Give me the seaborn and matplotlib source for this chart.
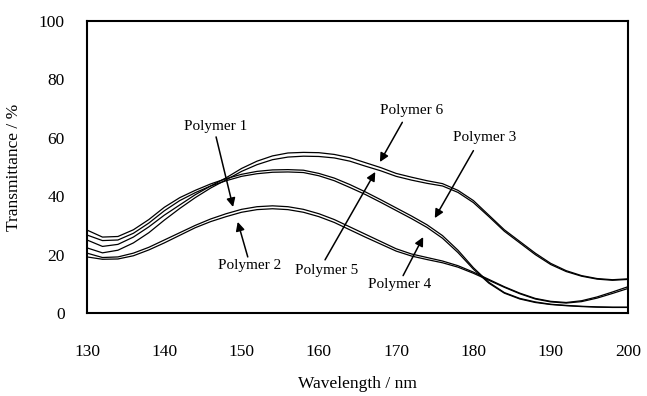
import numpy as np
import pandas as pd
import matplotlib
matplotlib.use("Agg")
import matplotlib.pyplot as plt
import seaborn as sns

wavelength = [130, 132, 134, 136, 138, 140, 142, 144, 146, 148, 150, 152, 154, 156, 158,
              160, 162, 164, 166, 168, 170, 172, 174, 176, 178, 180, 182, 184, 186, 188,
              190, 192, 194, 196, 198, 200]

polymer1 = [20.5, 19.0, 19.2, 20.5, 22.5, 25.0, 27.5, 30.0, 32.2, 34.0, 35.5, 36.4, 36.7, 36.4, 35.5,
            34.0, 32.0, 29.5, 27.0, 24.5, 22.0, 20.2, 19.0, 17.8, 16.2, 14.0, 11.5, 9.0, 6.8, 5.0,
            4.0, 3.6, 4.2, 5.5, 7.2, 9.0]
polymer2 = [19.2, 18.4, 18.5, 19.6, 21.6, 24.0, 26.6, 29.2, 31.3, 33.0, 34.5, 35.4, 35.7, 35.4, 34.5,
            33.0, 31.0, 28.5, 26.0, 23.6, 21.2, 19.5, 18.3, 17.2, 15.7, 13.6, 11.2, 8.8, 6.6, 4.8,
            3.8, 3.4, 3.9, 5.1, 6.7, 8.4]
polymer3 = [28.4, 26.0, 26.2, 28.5, 32.0, 36.2, 39.5, 42.0, 44.2, 46.0, 47.5, 48.5, 49.0, 49.1, 48.9,
            47.8, 46.2, 44.0, 41.5, 38.8, 36.0, 33.2, 30.2, 26.5, 21.5, 15.5, 10.5, 7.0, 5.0, 3.8,
            3.0, 2.6, 2.3, 2.1, 2.0, 2.0]
polymer4 = [26.7, 24.8, 25.0, 27.3, 30.8, 35.0, 38.5, 41.2, 43.5, 45.3, 46.8, 47.7, 48.2, 48.3, 48.1,
            47.0, 45.3, 43.0, 40.6, 37.9, 35.1, 32.3, 29.3, 25.6, 20.7, 15.0, 10.2, 6.8, 4.8, 3.6,
            2.9, 2.5, 2.2, 2.0, 1.9, 1.9]
polymer5 = [22.3, 20.6, 21.5, 24.0, 27.5, 31.8, 35.8, 39.5, 42.8, 45.6, 48.5, 50.8, 52.5, 53.4, 53.7,
            53.6, 53.1, 52.0, 50.3, 48.7, 46.8, 45.5, 44.4, 43.5, 41.3, 37.8, 33.0, 28.0, 24.0, 20.0,
            16.6, 14.2, 12.6, 11.6, 11.2, 11.5]
polymer6 = [25.0, 22.8, 23.5, 26.0, 29.5, 33.5, 37.0, 40.5, 43.5, 46.3, 49.5, 52.0, 53.8, 54.8, 55.0,
            54.9, 54.3, 53.2, 51.5, 49.8, 47.8, 46.5, 45.3, 44.3, 42.0, 38.5, 33.5, 28.5, 24.5, 20.5,
            17.0, 14.5, 12.8, 11.8, 11.4, 11.7]

series_names = ["Polymer 1", "Polymer 2", "Polymer 3", "Polymer 4", "Polymer 5", "Polymer 6"]
series_values = [polymer1, polymer2, polymer3, polymer4, polymer5, polymer6]

# annotation: (label, text x, text y, arrow tail x, tail y, tip x, tip y)
annotations = [
    ("Polymer 1", 146.6, 64.0, 146.7, 60.3, 148.9, 36.3),
    ("Polymer 2", 151.1, 16.1, 150.8, 19.2, 149.5, 31.2),
    ("Polymer 3", 181.5, 60.0, 180.0, 55.6, 175.0, 32.5),
    ("Polymer 4", 170.5, 9.6, 170.9, 12.8, 173.5, 26.0),
    ("Polymer 5", 161.0, 14.7, 160.8, 18.2, 167.3, 48.3),
    ("Polymer 6", 172.0, 69.5, 170.8, 65.3, 167.9, 51.7),
]

x_ticks = [130, 140, 150, 160, 170, 180, 190, 200]
y_ticks = [0, 20, 40, 60, 80, 100]

df = pd.DataFrame({
    "Wavelength": np.tile(wavelength, len(series_names)),
    "Transmittance": np.concatenate([np.asarray(v, float) for v in series_values]),
    "Polymer": np.repeat(series_names, len(wavelength)),
})

sns.set_theme(style="white")
plt.rcParams["font.family"] = ["Liberation Serif", "DejaVu Serif"]

fig = plt.figure(figsize=(6.47, 3.96), dpi=100)
ax = fig.add_axes([0.1345, 0.2096, 0.9706 - 0.1345, 0.947 - 0.2096])

sns.lineplot(data=df, x="Wavelength", y="Transmittance", units="Polymer", estimator=None,
             color="black", linewidth=0.9, ax=ax, legend=False)

for label, tx, ty, ax0, ay0, px, py in annotations:
    ax.text(tx, ty, label, ha="center", va="center", fontsize=11, color="black")
    ax.annotate("", xy=(px, py), xytext=(ax0, ay0),
                arrowprops=dict(arrowstyle="-|>", color="black", lw=1.1, mutation_scale=13,
                                shrinkA=0, shrinkB=0))

ax.set_xlim(130, 200)
ax.set_ylim(0, 100)
ax.set_xticks(x_ticks)
ax.set_yticks(y_ticks)
ax.tick_params(axis="x", direction="in", length=5, width=1, pad=22, labelsize=12.5, colors="black")
ax.tick_params(axis="y", direction="in", length=5, width=1, pad=16, labelsize=12.5, colors="black")
ax.set_xlabel("Wavelength / nm", fontsize=12.5, labelpad=12, color="black")
ax.set_ylabel("Transmittance / %", fontsize=12.5, labelpad=12, color="black")
for s in ax.spines.values():
    s.set_visible(True)
    s.set_color("black")
    s.set_linewidth(1.5)
ax.grid(False)

fig.savefig("out.png", dpi=100, facecolor="white")
